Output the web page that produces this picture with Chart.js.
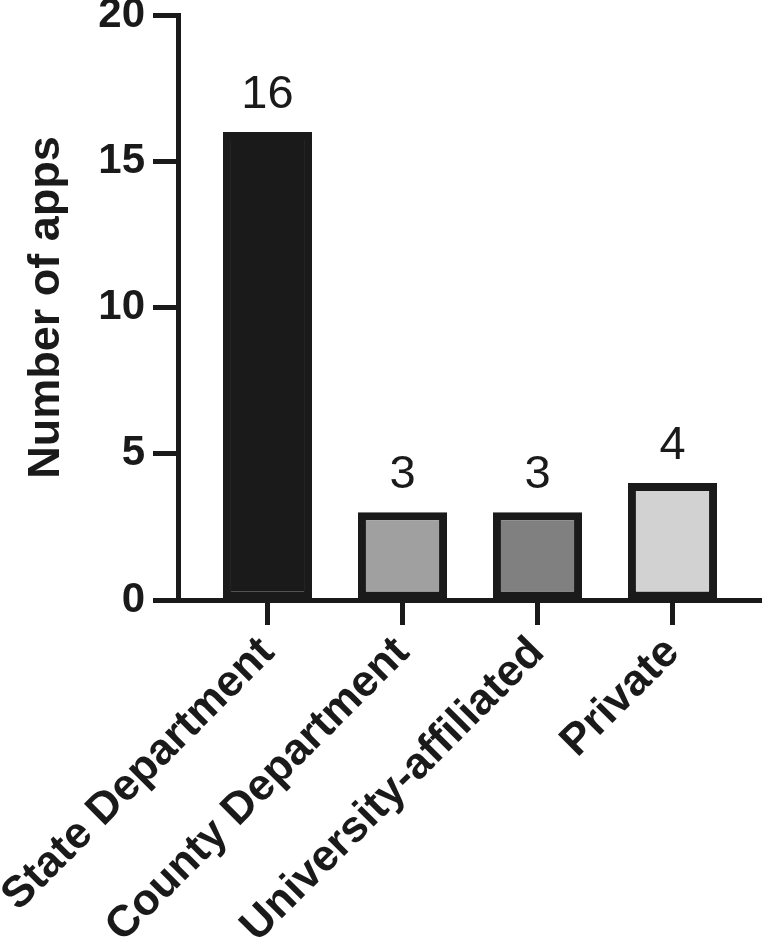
<!DOCTYPE html>
<html><head><meta charset="utf-8">
<script src="https://cdn.jsdelivr.net/npm/chart.js@4"></script>
<style>html,body{margin:0;padding:0;background:#fff}</style>
</head><body>
<canvas id="c" width="762" height="944"></canvas>
<script>
const categories = ['State Department','County Department','University-affiliated','Private'];
const appCounts = [16, 3, 3, 4];
const yTicks = [0, 5, 10, 15, 20];
const barColors = ['#1a1a1a', '#a0a0a0', '#808080', '#d2d2d2'];
const FONT = "'Liberation Sans', Arial, Helvetica, sans-serif";
const INK = '#1a1a1a';

const valueLabels = {
  id: 'valueLabels',
  afterDatasetsDraw(chart) {
    const ctx = chart.ctx;
    const meta = chart.getDatasetMeta(0);
    ctx.save();
    ctx.font = `47px ${FONT}`;
    ctx.fillStyle = INK;
    ctx.textAlign = 'center';
    ctx.textBaseline = 'alphabetic';
    meta.data.forEach((el, i) => { ctx.fillText(String(appCounts[i]), el.x, el.y - 24); });
    ctx.restore();
  }
};

new Chart(document.getElementById('c'), {
  type: 'bar',
  data: {
    datasets: [{
      data: appCounts.map((v, i) => ({ x: i, y: v })),
      backgroundColor: barColors,
      borderColor: INK,
      borderWidth: 8,
      borderSkipped: false,
      barPercentage: 0.66,
      categoryPercentage: 1
    }]
  },
  options: {
    responsive: false, animation: false, devicePixelRatio: 1,
    layout: { padding: { top: 15, left: 0, right: 0, bottom: 0 } },
    plugins: { legend: { display: false }, tooltip: { enabled: false } },
    scales: {
      x: {
        type: 'linear', min: -0.663, max: 3.663, offset: false,
        afterBuildTicks(s) { s.ticks = categories.map((c, i) => ({ value: i })); },
        afterFit(s) { s.height = 344; s.paddingLeft = 0; s.paddingRight = 0; },
        grid: { display: true, drawOnChartArea: false, drawTicks: true, tickLength: 25, tickWidth: 5, tickColor: INK, offset: false },
        border: { display: true, width: 5, color: INK },
        ticks: {
          autoSkip: false, maxRotation: 45, minRotation: 45, padding: 2, color: INK,
          font: { family: FONT, size: 44, weight: 'bold' },
          callback: (v) => categories[v]
        }
      },
      y: {
        min: 0, max: 20,
        afterBuildTicks(s) { s.ticks = yTicks.map(v => ({ value: v })); },
        afterFit(s) { s.width = 178; s.paddingTop = 0; s.paddingBottom = 0; },
        grid: { drawOnChartArea: false, drawTicks: true, tickLength: 25, tickWidth: 5, tickColor: INK },
        border: { display: true, width: 5, color: INK },
        ticks: { padding: 8, color: INK, font: { family: FONT, size: 42, weight: 'bold', lineHeight: 1 } },
        title: {
          display: true, text: 'Number of apps', color: INK,
          font: { family: FONT, size: 45, weight: 'bold', lineHeight: 1.2 },
          padding: { top: 20, bottom: 0 }
        }
      }
    }
  },
  plugins: [valueLabels]
});
</script></body></html>
